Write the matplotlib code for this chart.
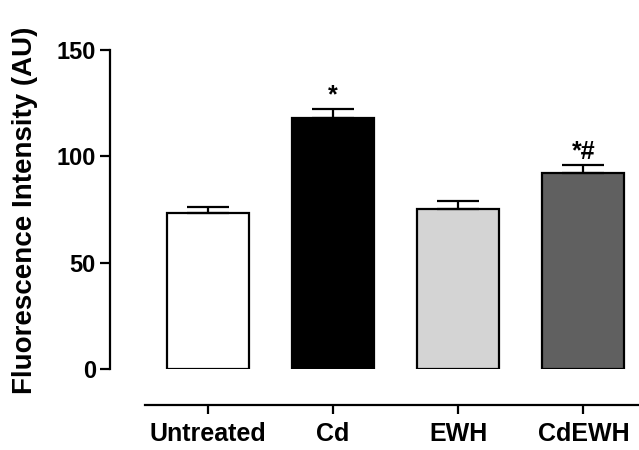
import numpy as np
import matplotlib
matplotlib.use("Agg")
import matplotlib.pyplot as plt

plt.rcParams['font.family'] = ['Liberation Sans', 'DejaVu Sans']
plt.rcParams['font.weight'] = 'bold'

groups = ["Untreated", "Cd", "EWH", "CdEWH"]
means = [73.5, 118, 75.2, 92]
sem = [2.8, 4.2, 3.8, 3.9]
colors = ["white", "black", "#d4d4d4", "#606060"]
marks = ["", "*", "", "*#"]

fig = plt.figure(figsize=(6.39, 4.5), dpi=100)
ax = fig.add_axes([0.2269, 0.18, 0.784, 0.7089])

x = np.arange(len(groups))
ax.bar(x, means, width=0.656, color=colors, edgecolor="black", linewidth=1.6, zorder=2)
ax.errorbar(x, means, yerr=[np.zeros(len(sem)), sem], fmt="none", ecolor="black",
            elinewidth=1.6, capsize=14.8, capthick=1.6, zorder=3)

for xi, m, s, t in zip(x, means, sem, marks):
    if t:
        ax.annotate(t, (xi, m + s), xytext=(0, 1), textcoords="offset points",
                    ha="center", va="bottom", fontsize=18, fontweight="bold",
                    annotation_clip=False)

ax.set_xlim(-0.5, 3.5)
ax.set_ylim(0, 150)
ax.set_yticks([0, 50, 100, 150])
ax.set_xticks(x)
ax.set_xticklabels(groups)

for side in ["top", "right"]:
    ax.spines[side].set_visible(False)
ax.spines["left"].set_position(("outward", 25.2))
ax.spines["bottom"].set_position(("outward", 25.9))
ax.spines["left"].set_linewidth(1.6)
ax.spines["bottom"].set_linewidth(1.6)

ax.tick_params(axis="y", direction="out", length=7.2, width=1.6, pad=3, labelsize=17)
ax.tick_params(axis="x", direction="out", length=6.5, width=1.6, pad=6, labelsize=18)
for lbl in ax.get_xticklabels() + ax.get_yticklabels():
    lbl.set_fontweight("bold")

ax.set_ylabel("Fluorescence Intensity (AU)", fontsize=20, fontweight="bold", va="center")
ax.yaxis.set_label_coords(-0.2395, 0.498)

fig.savefig("out.png", dpi=100)
